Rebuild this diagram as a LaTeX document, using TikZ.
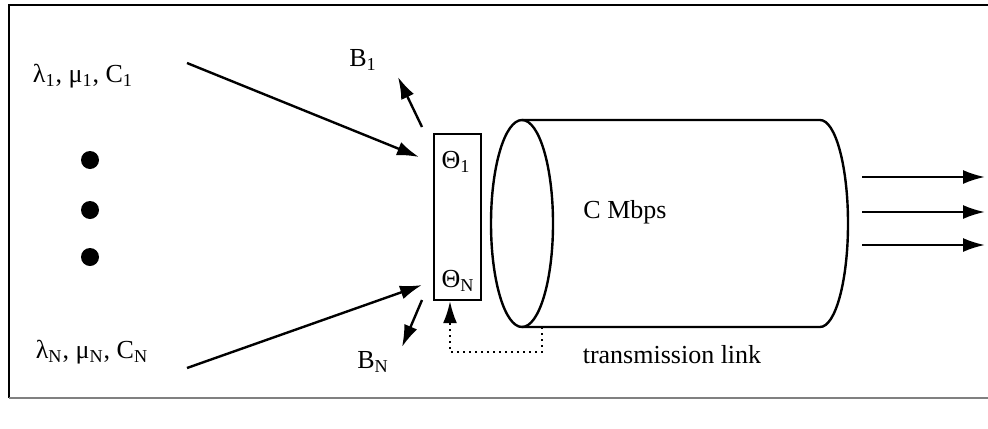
\documentclass[tikz,border=0pt]{standalone}
\usepackage{fontspec}
\setmainfont{Liberation Serif}
\usetikzlibrary{arrows.meta}
\begin{document}
\begin{tikzpicture}[x=0.5pt,y=-0.5pt,line width=1.2pt,
    arr/.style={-{Latex[length=11pt,width=7pt]}},
    lbl/.style={inner sep=0pt,font=\fontsize{13}{15}\selectfont}]
    \useasboundingbox (0,0) rectangle (988,428);
    % frame
    \draw (995,5) -- (9,5) -- (9,398);
    \draw [line width=0.6pt,gray] (9,398) -- (995,398);
    % sources
    \node [lbl] (src1) at (83,76) {λ\textsubscript{1}, μ\textsubscript{1}, C\textsubscript{1}};
    \node [lbl] (srcN) at (92,352) {λ\textsubscript{N}, μ\textsubscript{N}, C\textsubscript{N}};
    \foreach \y in {160,210,257} \fill (90,\y) circle (4.5pt);
    % buffer
    \node [draw,minimum width=23.5pt,minimum height=83pt,inner sep=0pt] (buf) at (457.5,217) {};
    \node [lbl] (th1) at (456,162) {Θ\textsubscript{1}};
    \node [lbl] (thN) at (458,281) {Θ\textsubscript{N}};
    \coordinate (in1) at (187,63);
    \coordinate (inN) at (187,368);
    \draw [arr] (in1) -- (419,157);
    \draw [arr] (inN) -- (422,285);
    \node [lbl] (b1) at (363,60) {B\textsubscript{1}};
    \node [lbl] (bN) at (373,362) {B\textsubscript{N}};
    \coordinate (out1) at (422,127);
    \coordinate (outN) at (422,300);
    \draw [arr] (out1) -- (398,77);
    \draw [arr] (outN) -- (402,347);
    % link
    \draw (522,223.5) ellipse [x radius=15.5pt,y radius=51.75pt];
    \draw (522,120) -- (820,120) arc [start angle=90,end angle=-90,x radius=14pt,y radius=51.75pt] -- (522,327);
    \node [lbl] (rate) at (625,212) {C Mbps};
    \node [lbl] (link) at (672,355) {transmission link};
    \coordinate (tap) at (542,327);
    \coordinate (fb) at (450,352);
    \draw [dotted,line width=1pt,arr] (tap) |- (fb) -- (fb |- buf.south);
    \foreach \y in {177,212,245} \draw [arr] (862,\y) -- (985,\y);
\end{tikzpicture}
\end{document}
